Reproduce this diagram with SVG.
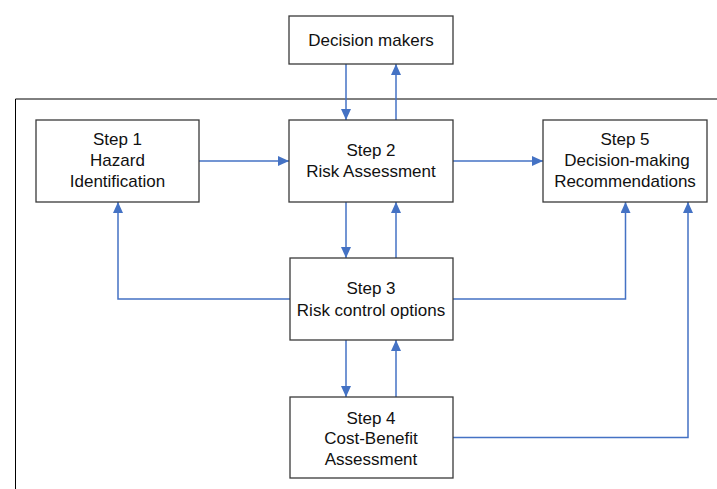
<svg xmlns="http://www.w3.org/2000/svg" width="717" height="489" viewBox="0 0 717 489">
<style>
.box{fill:#fff;stroke:#3a3a3a;stroke-width:1.3}
.t{font-family:"Liberation Sans",Arial,sans-serif;font-size:17px;fill:#111;text-anchor:middle}
.c{fill:none;stroke:#4472C4;stroke-width:1.5}
.frame{fill:none;stroke:#000;stroke-width:1}
</style>
<defs>
<marker id="ah" markerUnits="userSpaceOnUse" markerWidth="12" markerHeight="10" refX="11" refY="5" orient="auto">
<path d="M0,0 L11,5 L0,10 Z" fill="#4472C4"/>
</marker>
</defs>
<path class="frame" d="M717,99 H15.5 V489"/>
<g id="connectors">
<path class="c" d="M346,64 V120" marker-end="url(#ah)"/>
<path class="c" d="M396,120 V64" marker-end="url(#ah)"/>
<path class="c" d="M199,161 H289" marker-end="url(#ah)"/>
<path class="c" d="M453,161 H543" marker-end="url(#ah)"/>
<path class="c" d="M346,202 V258" marker-end="url(#ah)"/>
<path class="c" d="M396,258 V202" marker-end="url(#ah)"/>
<path class="c" d="M290,299 H118 V202" marker-end="url(#ah)"/>
<path class="c" d="M453,299 H625.5 V202" marker-end="url(#ah)"/>
<path class="c" d="M346,340 V397" marker-end="url(#ah)"/>
<path class="c" d="M396,397 V340" marker-end="url(#ah)"/>
<path class="c" d="M453,437.5 H688 V202" marker-end="url(#ah)"/>
</g>
<g id="decision-makers">
<rect class="box" x="289" y="16" width="164" height="48"/>
<text class="t" x="371" y="45.5">Decision makers</text>
</g>
<g id="step1">
<rect class="box" x="36" y="120" width="163" height="82"/>
<text class="t" x="117.5" y="145">Step 1</text>
<text class="t" x="117.5" y="166">Hazard</text>
<text class="t" x="117.5" y="186.5">Identification</text>
</g>
<g id="step2">
<rect class="box" x="289" y="120" width="164" height="82"/>
<text class="t" x="371" y="156">Step 2</text>
<text class="t" x="371" y="176.5">Risk Assessment</text>
</g>
<g id="step5">
<rect class="box" x="543" y="120" width="164" height="82"/>
<text class="t" x="625" y="145">Step 5</text>
<text class="t" x="627" y="166">Decision-making</text>
<text class="t" x="625" y="186.5">Recommendations</text>
</g>
<g id="step3">
<rect class="box" x="290" y="258" width="163" height="82"/>
<text class="t" x="371" y="294">Step 3</text>
<text class="t" x="371" y="315.5">Risk control options</text>
</g>
<g id="step4">
<rect class="box" x="290" y="397" width="163" height="81"/>
<text class="t" x="371" y="423.5">Step 4</text>
<text class="t" x="371" y="444">Cost-Benefit</text>
<text class="t" x="371" y="464.5">Assessment</text>
</g>
</svg>
